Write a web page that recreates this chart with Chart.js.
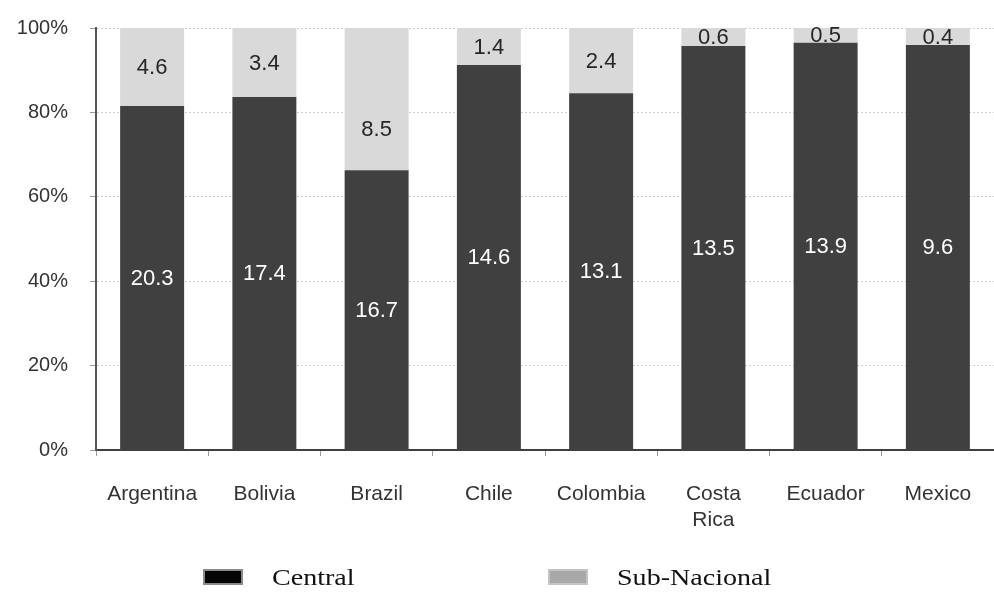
<!DOCTYPE html>
<html>
<head>
<meta charset="utf-8">
<script src="https://cdn.jsdelivr.net/npm/chart.js@4"></script>
<style>
  html, body { margin: 0; padding: 0; background: #fff; }
  #wrap { position: relative; width: 994px; height: 593px; }
  .legend-box { position: absolute; top: 569px; width: 36px; height: 12px; }
  .legend-text { position: absolute; top: 566px; line-height: 23px; white-space: nowrap;
    font-family: "Liberation Serif", "DejaVu Serif", serif; font-size: 23px; color: #111;
    transform: scaleX(1.22); transform-origin: left center; }
</style>
</head>
<body>
<div id="wrap">
  <canvas id="ChartCanvas" width="994" height="593"></canvas>
  <span class="legend-box" style="left:203px;background:#050505;border:2px solid #8a8a8a"></span>
  <span class="legend-text" style="left:272px">Central</span>
  <span class="legend-box" style="left:548px;background:#a8a8a8;border:2px solid #c4c4c4"></span>
  <span class="legend-text" style="left:617px">Sub-Nacional</span>
</div>
<script>
const countries = ['Argentina', 'Bolivia', 'Brazil', 'Chile', 'Colombia', ['Costa', 'Rica'], 'Ecuador', 'Mexico'];
const central = [20.3, 17.4, 16.7, 14.6, 13.1, 13.5, 13.9, 9.6];
const subNacional = [4.6, 3.4, 8.5, 1.4, 2.4, 0.6, 0.5, 0.4];
const yTicks = [0, 20, 40, 60, 80, 100];

// share of each level in the total, in percent
const share = (vals, i) => vals[i] / (central[i] + subNacional[i]) * 100;
const centralPct = central.map((v, i) => share(central, i));
const subPct = subNacional.map((v, i) => share(subNacional, i));

// Brazil's sub-national label sits lower than the middle in the original (axis %)
const subLabelAt = [null, null, 76, null, null, null, null, null];

const barLabels = {
  id: 'barLabels',
  afterDatasetsDraw: chart => {
    const ctx = chart.ctx;
    const yScale = chart.scales.y;
    ctx.save();
    ctx.font = '22px "Liberation Sans", Arial, sans-serif';
    ctx.textAlign = 'center';
    ctx.textBaseline = 'middle';
    chart.data.datasets.forEach((ds, di) => {
      const meta = chart.getDatasetMeta(di);
      meta.data.forEach((bar, i) => {
        const at = di === 0 ? null : subLabelAt[i];
        const y = at == null ? (bar.y + bar.base) / 2 : yScale.getPixelForValue(at);
        ctx.fillStyle = di === 0 ? '#ffffff' : '#262626';
        ctx.fillText(ds.raw[i].toFixed(1), bar.x, y + 1);
      });
    });
    ctx.restore();
  }
};

new Chart(document.getElementById('ChartCanvas'), {
  type: 'bar',
  data: {
    labels: countries,
    datasets: [{
      label: 'Central',
      data: centralPct,
      raw: central,
      backgroundColor: '#404040',
      barPercentage: 0.57,
      categoryPercentage: 1
    }, {
      label: 'Sub-Nacional',
      data: subPct,
      raw: subNacional,
      backgroundColor: '#d9d9d9',
      barPercentage: 0.57,
      categoryPercentage: 1
    }]
  },
  options: {
    animation: false,
    responsive: false,
    layout: { padding: { top: 28, right: 0, bottom: 60, left: 0 } },
    plugins: {
      legend: { display: false },
      tooltip: { enabled: false }
    },
    scales: {
      x: {
        stacked: true,
        afterFit: scale => {
          scale.height = 83;
          scale.paddingLeft = 0;
          scale.paddingRight = 0;
        },
        grid: { display: true, drawOnChartArea: false, tickLength: 6, color: '#9a9a9a', offset: true },
        border: { display: true, color: '#404040', width: 2 },
        ticks: {
          padding: 26,
          color: '#333',
          font: { family: '"Liberation Sans", Arial, sans-serif', size: 21 }
        }
      },
      y: {
        stacked: true,
        min: 0,
        max: 100,
        afterFit: scale => {
          scale.width = 96;
          scale.paddingTop = 0;
          scale.paddingBottom = 0;
        },
        afterBuildTicks: scale => { scale.ticks = yTicks.map(v => ({ value: v })); },
        grid: {
          color: ctx => ctx.tick && ctx.tick.value === 0 ? 'rgba(0,0,0,0)' : '#cfcfcf',
          tickColor: '#9a9a9a',
          tickLength: 6,
          lineWidth: 1
        },
        border: { display: true, color: '#555', width: 2, dash: [2, 2] },
        ticks: {
          padding: 22,
          color: '#333',
          font: { family: '"Liberation Sans", Arial, sans-serif', size: 20 },
          callback: v => v + '%'
        }
      }
    }
  },
  plugins: [barLabels]
});
</script>
</body>
</html>
